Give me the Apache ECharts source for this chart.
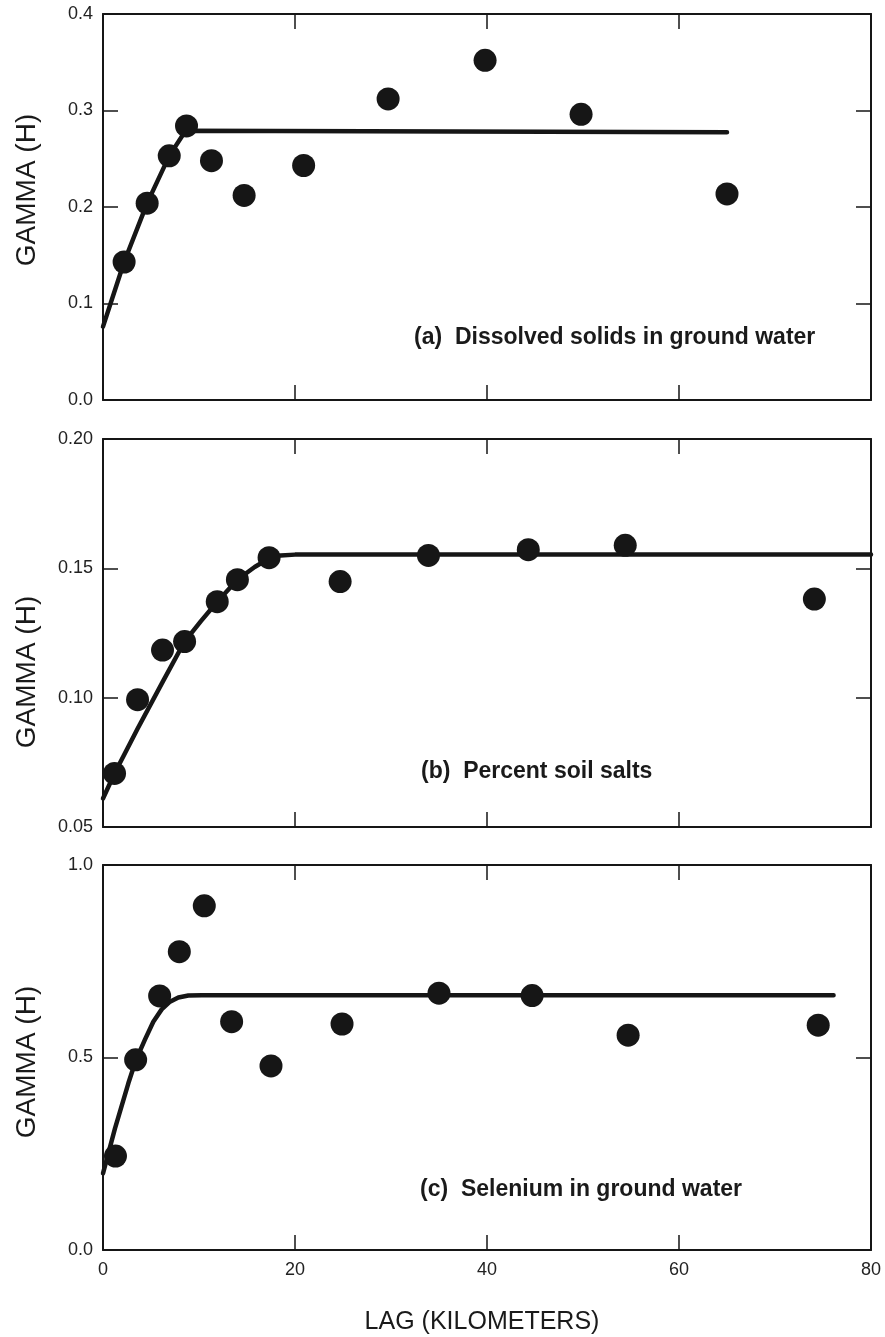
<!DOCTYPE html>
<html>
<head>
<meta charset="utf-8">
<script src="https://cdn.jsdelivr.net/npm/echarts@6/dist/echarts.min.js"></script>
<style>
html,body{margin:0;padding:0;background:#fff;}
#chart{width:885px;height:1337px;}
</style>
</head>
<body>
<div id="chart"></div>
<script>
// X axis ticks
const lagTicks = [0, 20, 40, 60, 80];

// Panel (a) Dissolved solids in ground water
const lagA = [2.2, 4.6, 6.9, 8.7, 11.3, 14.7, 20.9, 29.7, 39.8, 49.8, 65.0];
const gammaA = [0.143, 0.204, 0.253, 0.284, 0.248, 0.212, 0.243, 0.312, 0.352, 0.296, 0.2135];
const modelLagA = [0, 2.2, 4.6, 6.9, 8.6, 65.0];
const modelGammaA = [0.076, 0.143, 0.204, 0.253, 0.279, 0.2775];

// Panel (b) Percent soil salts
const lagB = [1.2, 3.6, 6.2, 8.5, 11.9, 14.0, 17.3, 24.7, 33.9, 44.3, 54.4, 74.1];
const gammaB = [0.0707, 0.0992, 0.1184, 0.1217, 0.1371, 0.1456, 0.1541, 0.1449, 0.1550, 0.1572, 0.1589, 0.1381];
const modelLagB = [0, 1.2, 3.6, 6.2, 8.5, 10.2, 11.9, 14.0, 15.8, 17.3, 18.5, 20.0, 80];
const modelGammaB = [0.061, 0.0707, 0.088, 0.106, 0.1217, 0.1296, 0.1371, 0.1456, 0.1505, 0.1538, 0.1550, 0.1553, 0.1553];

// Panel (c) Selenium in ground water
const lagC = [1.3, 3.4, 5.9, 7.95, 10.55, 13.4, 17.5, 24.9, 35.0, 44.7, 54.7, 74.5];
const gammaC = [0.244, 0.494, 0.66, 0.775, 0.894, 0.593, 0.478, 0.587, 0.667, 0.661, 0.558, 0.584];
const modelLagC = [0, 1.25, 2.64, 3.44, 4.38, 5.24, 6.11, 6.98, 7.85, 8.89, 10.3, 76.1];
const modelGammaC = [0.199, 0.316, 0.433, 0.494, 0.547, 0.593, 0.625, 0.645, 0.656, 0.661, 0.662, 0.662];

// Y axis tick settings
const yTicksA = [0.0, 0.1, 0.2, 0.3, 0.4];
const yTicksB = [0.05, 0.10, 0.15, 0.20];
const yTicksC = [0.0, 0.5, 1.0];

const panelLabels = ['(a)  Dissolved solids in ground water', '(b)  Percent soil salts', '(c)  Selenium in ground water'];
const yTitle = 'GAMMA (H)';
const xTitle = 'LAG (KILOMETERS)';

const INK = '#161616';
const FONT = 'Liberation Sans, Arial, Helvetica, sans-serif';

const grids = [
  {left: 103, top: 14, width: 768, height: 386},
  {left: 103, top: 439, width: 768, height: 388},
  {left: 103, top: 865, width: 768, height: 385}
];

const yTickSets = [yTicksA, yTicksB, yTicksC];
const yDec = [1, 2, 1];

function pairs(xs, ys) { return xs.map((x, i) => [x, ys[i]]); }

const xAxes = [], yAxes = [], series = [];
const axLine = {show: true, onZero: false, lineStyle: {color: INK, width: 2}};
const tick = {show: true, inside: true, length: 15, lineStyle: {color: INK, width: 1.5}};

grids.forEach((g, i) => {
  const bottomLabels = (i === 2);
  xAxes.push({
    gridIndex: i, type: 'value', position: 'bottom',
    min: lagTicks[0], max: lagTicks[lagTicks.length - 1],
    interval: lagTicks[1] - lagTicks[0],
    axisLine: axLine, axisTick: tick, splitLine: {show: false},
    axisLabel: {show: bottomLabels, color: '#222', fontSize: 18, fontFamily: FONT, margin: 11}
  });
  xAxes.push({
    gridIndex: i, type: 'value', position: 'top',
    min: lagTicks[0], max: lagTicks[lagTicks.length - 1],
    interval: lagTicks[1] - lagTicks[0],
    axisLine: axLine, axisTick: tick, splitLine: {show: false},
    axisLabel: {show: false}
  });
  const yt = yTickSets[i];
  const dec = yDec[i];
  yAxes.push({
    gridIndex: i, type: 'value', position: 'left',
    min: yt[0], max: yt[yt.length - 1], interval: yt[1] - yt[0],
    axisLine: axLine, axisTick: tick, splitLine: {show: false},
    axisLabel: {color: '#222', fontSize: 18, fontFamily: FONT, margin: 10,
      formatter: v => Number(v).toFixed(dec)}
  });
  yAxes.push({
    gridIndex: i, type: 'value', position: 'right',
    min: yt[0], max: yt[yt.length - 1], interval: yt[1] - yt[0],
    axisLine: axLine, axisTick: tick, splitLine: {show: false},
    axisLabel: {show: false}
  });
});

const pts = [pairs(lagA, gammaA), pairs(lagB, gammaB), pairs(lagC, gammaC)];
const models = [pairs(modelLagA, modelGammaA), pairs(modelLagB, modelGammaB), pairs(modelLagC, modelGammaC)];

models.forEach((d, i) => {
  series.push({
    type: 'line', xAxisIndex: 2 * i, yAxisIndex: 2 * i, data: d,
    showSymbol: false, symbol: 'none', smooth: false, silent: true,
    lineStyle: {color: INK, width: 4.5, cap: 'round', join: 'round'},
    z: 2
  });
});
pts.forEach((d, i) => {
  series.push({
    type: 'scatter', xAxisIndex: 2 * i, yAxisIndex: 2 * i, data: d,
    symbol: 'circle', symbolSize: 23, itemStyle: {color: INK, opacity: 1},
    z: 3
  });
});

const labelPos = [[414, 338], [421, 772], [420, 1190]];
const yTitlePos = [[27, 190], [27, 672], [27, 1062]];

const graphics = [];
panelLabels.forEach((t, i) => {
  graphics.push({
    type: 'text', x: labelPos[i][0], y: labelPos[i][1], z: 10,
    style: {text: t, fill: '#1a1a1a', fontSize: 23, fontWeight: 'bold', fontFamily: FONT,
      align: 'left', verticalAlign: 'middle', textAlign: 'left', textVerticalAlign: 'middle'}
  });
});
yTitlePos.forEach((p) => {
  graphics.push({
    type: 'text', x: p[0], y: p[1], rotation: Math.PI / 2, z: 10,
    style: {text: yTitle, fill: '#1a1a1a', fontSize: 28, fontFamily: FONT,
      align: 'center', verticalAlign: 'middle', textAlign: 'center', textVerticalAlign: 'middle'}
  });
});
graphics.push({
  type: 'text', x: 482, y: 1322, z: 10,
  style: {text: xTitle, fill: '#1a1a1a', fontSize: 25, fontFamily: FONT,
    align: 'center', verticalAlign: 'middle', textAlign: 'center', textVerticalAlign: 'middle'}
});

const chart = echarts.init(document.getElementById('chart'), null, {renderer: 'canvas'});
chart.setOption({
  backgroundColor: '#ffffff',
  animation: false,
  grid: grids,
  xAxis: xAxes,
  yAxis: yAxes,
  series: series,
  graphic: graphics
});
</script>
</body>
</html>
